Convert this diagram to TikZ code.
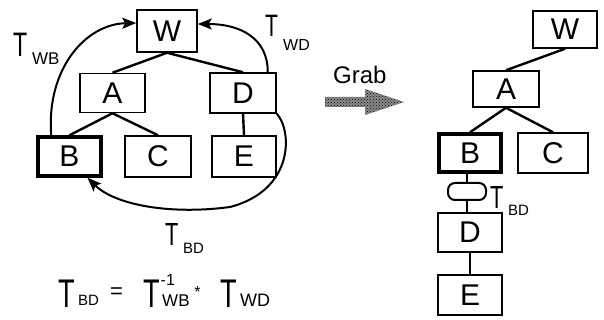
\documentclass[tikz,border=0pt]{standalone}
\usepackage{graphicx}
\usepackage{fontspec}
\setmainfont{Liberation Sans}
\usetikzlibrary{arrows.meta,patterns}
\newcommand{\nT}{\scalebox{0.68}[1]{T}}
\begin{document}
\begin{tikzpicture}[x=1pt,y=-1pt,
  box/.style={draw,line width=1.5pt,inner sep=0pt,font=\fontsize{30}{30}\selectfont},
  thickbox/.style={box,line width=3.5pt},
  pill/.style={draw,line width=2pt,rounded corners=7pt,inner sep=0pt,minimum width=38pt,minimum height=17pt},
  edge/.style={line width=2.4pt},
  link/.style={line width=2pt,-{Stealth[length=14pt,width=11pt,inset=3pt]}},
  bigT/.style={anchor=base west,inner sep=0pt,font=\fontsize{#1}{#1}\selectfont},
  sub/.style={anchor=base west,inner sep=0pt,font=\fontsize{#1}{#1}\selectfont}]
\useasboundingbox (0,0) rectangle (604,320);
% ---- left tree
\node[box,minimum width=60pt,minimum height=42pt] (LW) at (167,31) {W};
\node[box,minimum width=65pt,minimum height=39pt] (LA) at (112.5,93) {A};
\node[box,minimum width=66pt,minimum height=40pt] (LD) at (243,93) {D};
\node[thickbox,minimum width=63pt,minimum height=39pt] (LB) at (69.5,156.5) {B};
\node[box,minimum width=66pt,minimum height=41pt] (LC) at (158,156.5) {C};
\node[box,minimum width=64pt,minimum height=41pt] (LE) at (244,156.5) {E};
\draw[edge] (LW.south) -- (LA.north);
\draw[edge] (LW.south) -- (LD.north);
\draw[edge] (LA.south) -- (LB.north);
\draw[edge] (LA.south) -- (LC.north);
\draw[edge] (LD.south) -- (LE.north);
% ---- transform arrows
\draw[link] ([xshift=15pt]LB.north west) .. controls (46,70) and (85,24) .. ([yshift=8pt]LW.west);
\draw[link] ([xshift=-9pt]LD.north east) .. controls (268,38) and (240,24) .. ([yshift=7pt]LW.east);
\draw[link] (LD.south east) .. controls (292,130) and (295,190) .. (230,207)
   .. controls (170,215) and (115,205) .. ([xshift=18pt]LB.south);
% ---- labels
\node[bigT=34] (tWB) at (13,57) {\nT};
\node[sub=17] (tWBs) at (32,65) {WB};
\node[bigT=31] (tWD) at (265,37) {\nT};
\node[sub=16] (tWDs) at (283,51) {WD};
\node[bigT=32] (tBD) at (165,245) {\nT};
\node[sub=15] (tBDs) at (183,253) {BD};
% ---- formula
\node[bigT=40] (f1) at (58,307) {\nT};
\node[sub=15] (f1s) at (78,305) {BD};
\node[inner sep=0pt,font=\fontsize{22}{22}\selectfont] (feq) at (116.5,293.5) {=};
\node[bigT=40] (f2) at (143,307) {\nT};
\node[sub=16] (f2e) at (160.5,285) {-1};
\node[sub=17] (f2s) at (162,306) {WB};
\node[inner sep=0pt,font=\fontsize{16}{16}\selectfont] (fdot) at (197.5,292) {*};
\node[bigT=40] (f3) at (220,307) {\nT};
\node[sub=18] (f3s) at (240,306) {WD};
% ---- grab arrow
\node[sub=24] (grab) at (333,84) {Grab};
\fill[black!45] (325,97) -- (365,97) -- (365,89) -- (404,102) -- (365,115) -- (365,107) -- (325,107) -- cycle;
\fill[pattern=crosshatch dots,pattern color=black] (325,97) -- (365,97) -- (365,89) -- (404,102) -- (365,115) -- (365,107) -- (325,107) -- cycle;
% ---- right tree
\node[box,minimum width=64pt,minimum height=37pt] (RW) at (565,29.5) {W};
\node[box,minimum width=66pt,minimum height=36pt] (RA) at (506,89) {A};
\node[thickbox,minimum width=62pt,minimum height=38pt] (RB) at (470,153) {B};
\node[box,minimum width=70pt,minimum height=40pt] (RC) at (553,153) {C};
\node[pill] (RP) at (467,191.5) {};
\node[box,minimum width=64pt,minimum height=39pt] (RD) at (470,232.5) {D};
\node[box,minimum width=64pt,minimum height=40pt] (RE) at (470,295) {E};
\draw[edge] (RW.south) -- (RA.north);
\draw[edge] (RA.south) -- (RB.north);
\draw[edge] (RA.south) -- (RC.north);
\draw[edge] (RP.north) -- (RP.north |- RB.south);
\draw[edge] (RP.south) -- (RP.south |- RD.north);
\draw[edge] (RD.south) -- (RE.north);
\node[bigT=32] (rBD) at (490,208) {\nT};
\node[sub=15] (rBDs) at (508,215) {BD};
\end{tikzpicture}
\end{document}
